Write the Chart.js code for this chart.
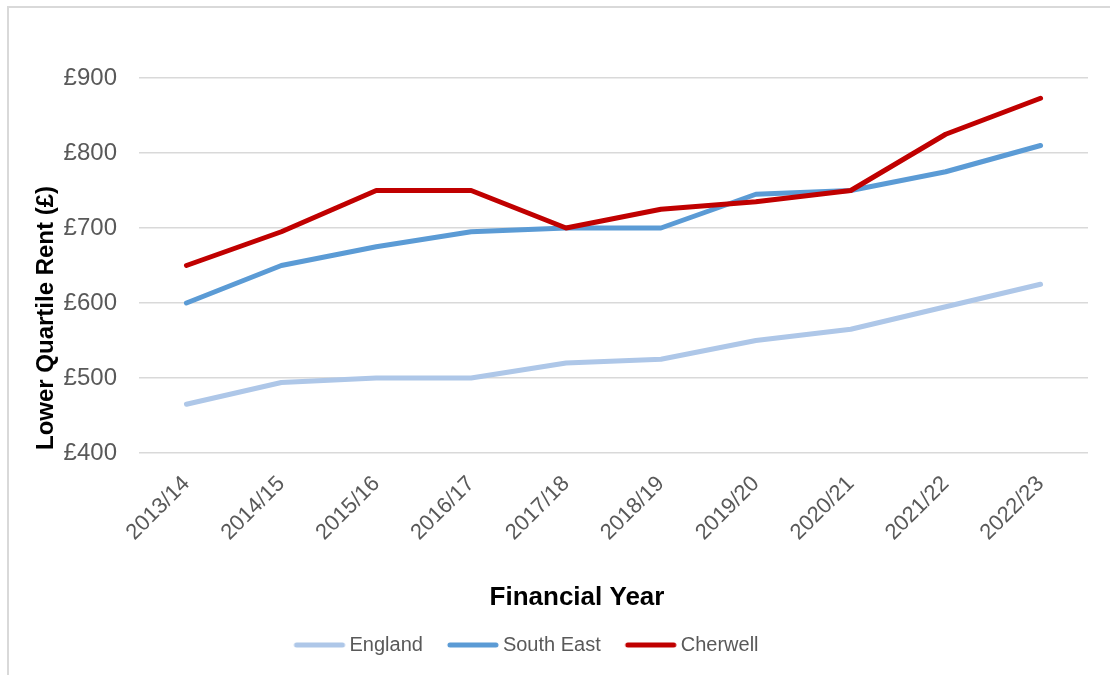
<!DOCTYPE html>
<html>
<head>
<meta charset="utf-8">
<script src="https://cdn.jsdelivr.net/npm/chart.js@4"></script>
<style>
  html, body { margin: 0; padding: 0; background: #fff; }
  #frame { position: absolute; left: 7px; top: 6px; width: 1200px; height: 800px;
           border-left: 2px solid #d9d9d9; border-top: 2px solid #d9d9d9; }
  #wrap { position: absolute; left: 0; top: 0; width: 1110px; height: 675px; }
</style>
</head>
<body>
<div id="frame"></div>
<div id="wrap"><canvas id="c" width="1110" height="675"></canvas></div>
<script>
const categories = ["2013/14","2014/15","2015/16","2016/17","2017/18","2018/19","2019/20","2020/21","2021/22","2022/23"];
const england   = [465, 494, 500, 500, 520, 525, 550, 565, 595, 625];
const southEast = [600, 650, 675, 695, 700, 700, 745, 750, 775, 810];
const cherwell  = [650, 695, 750, 750, 700, 725, 735, 750, 825, 873];
const seriesNames = ["England", "South East", "Cherwell"];
const xTitle = "Financial Year";
const yTitle = "Lower Quartile Rent (£)";

const FONT = "'Liberation Sans', Arial, sans-serif";
const PLOT_TOP = 78, PLOT_BOTTOM = 453, PLOT_LEFT = 139, PLOT_RIGHT = 1088;
const PAD_LEFT = -32, PAD_BOTTOM = 10;

// legend swatch: a short thick rounded line, drawn as an image point style
function swatch(color) {
  const c = document.createElement('canvas');
  c.width = 56; c.height = 10;
  const g = c.getContext('2d');
  g.strokeStyle = color; g.lineWidth = 5; g.lineCap = 'round';
  g.beginPath(); g.moveTo(6, 5); g.lineTo(52, 5); g.stroke();
  return c;
}

const titlePlugin = {
  id: 'axisTitles',
  afterDraw(chart) {
    const ctx = chart.ctx;
    ctx.save();
    ctx.fillStyle = '#000';
    ctx.textAlign = 'center';
    ctx.textBaseline = 'middle';
    ctx.font = "bold 26px " + FONT;
    ctx.fillText(xTitle, 577, 598);
    ctx.translate(46, 318);
    ctx.rotate(-Math.PI / 2);
    ctx.font = "bold 24px " + FONT;
    ctx.fillText(yTitle, 0, 0);
    ctx.restore();
  }
};

const mk = (label, data, color, order) => ({
  label, data, borderColor: color, backgroundColor: color,
  borderWidth: 5, borderCapStyle: 'round', borderJoinStyle: 'round',
  pointRadius: 0, pointHoverRadius: 0, pointStyle: swatch(color),
  tension: 0, fill: false, order
});

new Chart(document.getElementById('c'), {
  type: 'line',
  data: {
    labels: categories,
    datasets: [
      mk(seriesNames[0], england, '#aec7e8', 3),
      mk(seriesNames[1], southEast, '#5b9bd5', 2),
      mk(seriesNames[2], cherwell, '#c00000', 1)
    ]
  },
  plugins: [titlePlugin],
  options: {
    responsive: false,
    animation: false,
    devicePixelRatio: 1,
    layout: { padding: { top: PLOT_TOP, left: PAD_LEFT, right: 1110 - PLOT_RIGHT, bottom: PAD_BOTTOM } },
    plugins: {
      tooltip: { enabled: false },
      title: { display: false },
      legend: {
        position: 'bottom',
        labels: {
          usePointStyle: true,
          pointStyleWidth: 42,
          padding: 28,
          color: '#595959',
          font: { family: FONT, size: 20 },
          sort: (a, b) => a.datasetIndex - b.datasetIndex
        }
      }
    },
    scales: {
      x: {
        offset: true,
        grid: { display: false, drawTicks: false },
        border: { display: false },
        ticks: {
          color: '#595959',
          font: { family: FONT, size: 22 },
          minRotation: 45, maxRotation: 45,
          padding: 18
        },
        afterFit(scale) {
          const lh = scale.chart.legend && scale.chart.legend.height ? scale.chart.legend.height : 56;
          scale.height = 675 - PLOT_BOTTOM - PAD_BOTTOM - lh;
        }
      },
      y: {
        min: 400, max: 900,
        grid: { color: '#d9d9d9', lineWidth: 1.5, drawTicks: false },
        border: { display: false },
        ticks: {
          stepSize: 100,
          color: '#595959',
          font: { family: FONT, size: 24 },
          padding: 22,
          callback: v => '£' + v
        },
        afterFit(scale) { scale.width = PLOT_LEFT - PAD_LEFT; }
      }
    }
  }
});
</script>
</body>
</html>
